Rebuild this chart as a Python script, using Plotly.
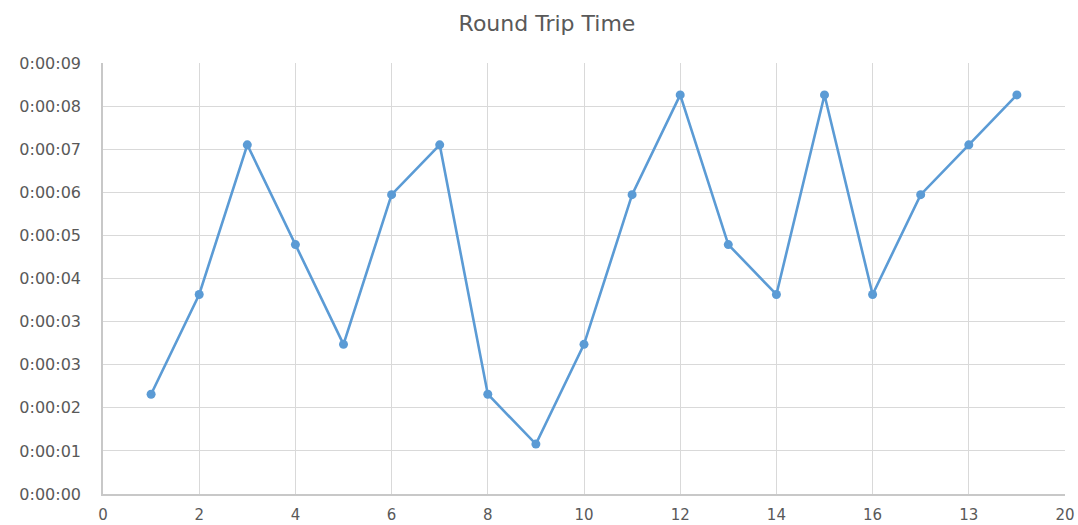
import plotly.graph_objects as go

# Trip number and measured round trip time (seconds)
trip = [1, 2, 3, 4, 5, 6, 7, 8, 9, 10, 11, 12, 13, 14, 15, 16, 17, 18, 19]
rtt_seconds = [2, 4, 7, 5, 3, 6, 7, 2, 1, 3, 6, 8, 5, 4, 8, 4, 6, 7, 8]

# Time axis ticks: major unit of 0.00001 day (0.864 s), labels shown as h:mm:ss
y_tick_values = [0, 0.864, 1.728, 2.592, 3.456, 4.32, 5.184, 6.048, 6.912, 7.776, 8.64]
y_tick_labels = ["0:00:00", "0:00:01", "0:00:02", "0:00:03", "0:00:03", "0:00:04",
                 "0:00:05", "0:00:06", "0:00:07", "0:00:08", "0:00:09"]
x_tick_values = [0, 2, 4, 6, 8, 10, 12, 14, 16, 18, 20]
x_tick_labels = ["0", "2", "4", "6", "8", "10", "12", "14", "16", "13", "20"]

label_color = "#595959"
grid_color = "#d9d9d9"
axis_color = "#c8c8c8"
font_family = "DejaVu Sans, sans-serif"

fig = go.Figure(
    go.Scatter(
        x=trip,
        y=rtt_seconds,
        mode="lines+markers",
        line=dict(color="#5b9bd5", width=2.6),
        marker=dict(color="#5b9bd5", size=9, symbol="circle"),
        showlegend=False,
    )
)

fig.update_layout(
    width=1078,
    height=525,
    margin=dict(l=103, r=13, t=63, b=31),
    paper_bgcolor="white",
    plot_bgcolor="white",
    title=dict(
        text="Round Trip Time",
        x=547 / 1078,
        xanchor="center",
        y=1 - 23 / 525,
        yanchor="middle",
        font=dict(family=font_family, size=22, color=label_color),
    ),
    font=dict(family=font_family, size=15, color=label_color),
)

fig.update_xaxes(
    range=[0, 20],
    automargin=False,
    tickmode="array",
    tickvals=x_tick_values,
    ticktext=x_tick_labels,
    showgrid=True,
    gridcolor=grid_color,
    gridwidth=1.3,
    showline=True,
    linecolor=axis_color,
    linewidth=1.5,
    zeroline=False,
    ticks="outside",
    ticklen=6,
    tickcolor="rgba(0,0,0,0)",
    tickfont=dict(family=font_family, size=15, color=label_color),
)

fig.update_yaxes(
    range=[0, 8.64],
    automargin=False,
    tickmode="array",
    tickvals=y_tick_values,
    ticktext=y_tick_labels,
    showgrid=True,
    gridcolor=grid_color,
    gridwidth=1.3,
    showline=True,
    linecolor=axis_color,
    linewidth=1.5,
    zeroline=False,
    ticks="outside",
    ticklen=17,
    tickcolor="rgba(0,0,0,0)",
    tickfont=dict(family=font_family, size=16, color=label_color),
)

fig.write_html("out.html")
